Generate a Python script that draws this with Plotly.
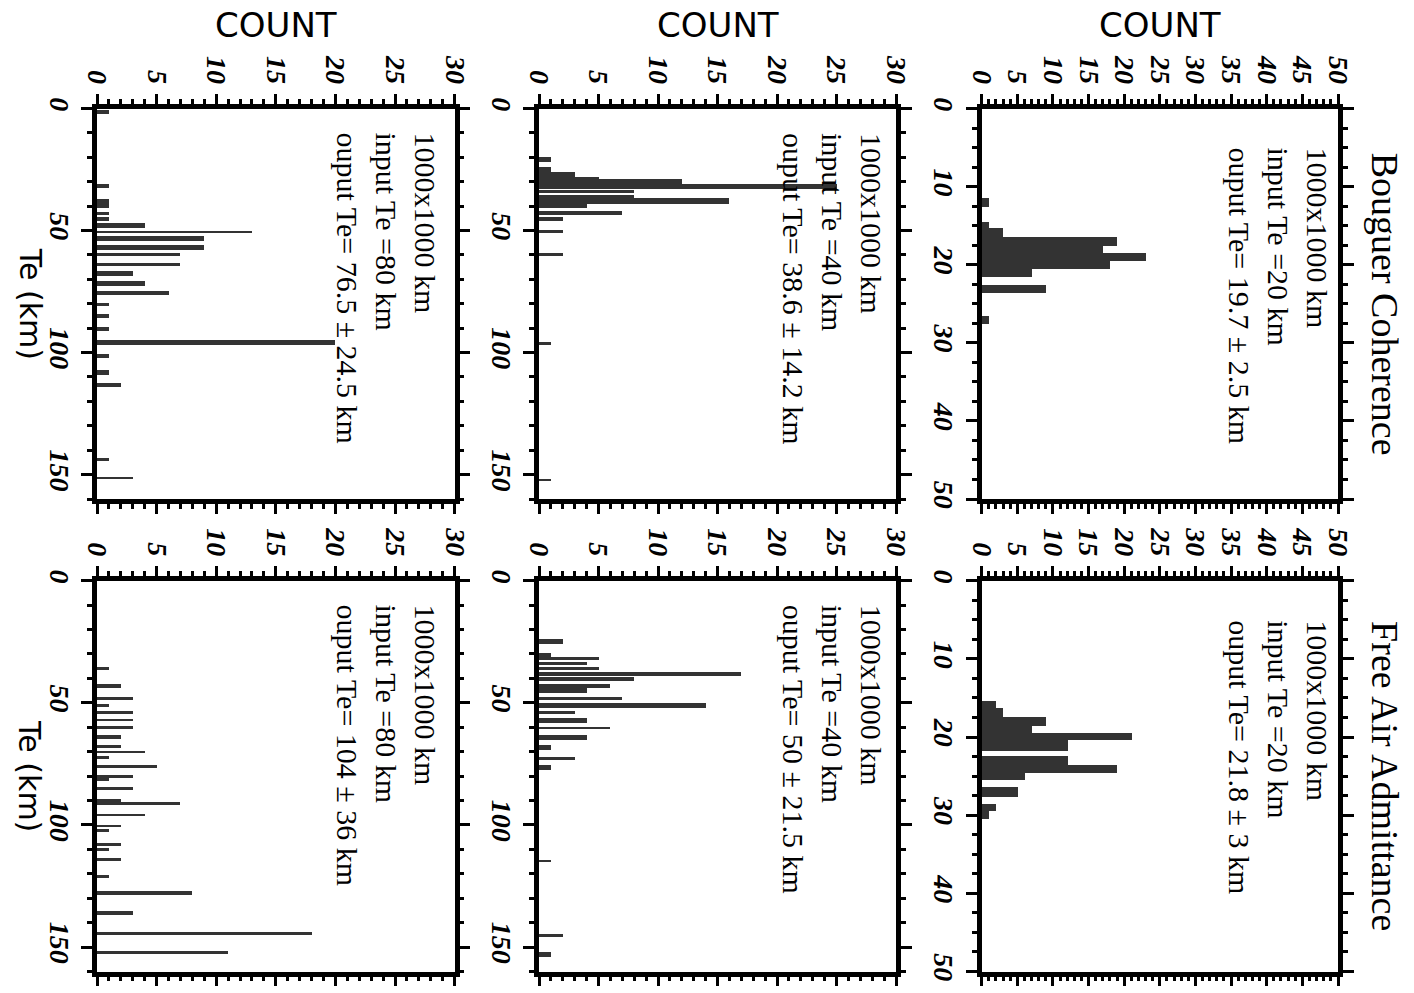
import plotly.graph_objects as go

# Histogram bins of recovered Te (km): lower edge, upper edge, count per bin

# Bouguer coherence
bc20_lo = [11.4, 14.5, 15.3, 16.4, 17.5, 18.5, 19.5, 20.5, 22.5, 26.5]
bc20_hi = [12.5, 15.3, 16.4, 17.5, 18.5, 19.5, 20.5, 21.5, 23.5, 27.5]
bc20_n = [1, 1, 3, 19, 17, 23, 18, 7, 9, 1]

bc40_lo = [19.7, 23.8, 25.9, 27.9, 28.8, 30.9, 33.0, 35.1, 36.5, 38.8, 41.9, 44.2, 49.7, 58.9, 95.5, 151.4]
bc40_hi = [21.8, 25.9, 27.9, 28.8, 30.9, 32.7, 34.4, 36.5, 38.8, 40.5, 43.3, 45.9, 51.0, 60.1, 96.6, 152.5]
bc40_n = [1, 1, 3, 5, 12, 25, 8, 8, 16, 4, 7, 2, 2, 2, 1, 1]

bc80_lo = [0.3, 30.7, 36.9, 38.7, 42.0, 44.4, 46.8, 49.8, 52.2, 55.6, 58.9, 63.0, 66.5, 70.6, 74.6,
           79.3, 83.8, 89.5, 94.8, 100.4, 107.1, 112.2, 142.8, 150.7]
bc80_hi = [2.0, 32.5, 38.7, 40.5, 43.4, 46.0, 48.7, 50.9, 54.2, 57.7, 60.4, 64.5, 68.3, 72.4, 76.4,
           80.9, 85.6, 91.1, 96.5, 102.2, 108.8, 113.8, 144.4, 151.8]
bc80_n = [1, 1, 1, 1, 1, 1, 4, 13, 9, 9, 7, 7, 3, 4, 6, 1, 1, 1, 20, 1, 1, 2, 1, 3]

# Free-air admittance
fa20_lo = [15.4, 16.3, 17.4, 18.5, 19.4, 20.4, 22.4, 23.5, 24.6, 26.4, 28.5, 29.4]
fa20_hi = [16.3, 17.4, 18.5, 19.4, 20.4, 21.7, 23.5, 24.6, 25.5, 27.6, 29.4, 30.5]
fa20_n = [2, 3, 9, 7, 21, 12, 12, 19, 6, 5, 2, 1]

fa40_lo = [23.8, 29.4, 31.1, 33.1, 35.2, 37.3, 39.1, 42.1, 43.7, 47.3, 50.0, 53.4, 56.1, 59.6, 63.0,
           67.1, 71.9, 75.3, 114.1, 144.5, 152.0]
fa40_hi = [25.7, 31.1, 32.5, 34.3, 36.6, 38.7, 41.1, 43.7, 45.9, 48.6, 52.0, 54.6, 58.2, 60.7, 65.0,
           69.0, 73.1, 77.2, 115.2, 145.6, 153.8]
fa40_n = [2, 1, 5, 4, 5, 17, 8, 6, 4, 7, 14, 3, 4, 6, 4, 1, 3, 1, 1, 2, 1]

fa80_lo = [35.3, 42.3, 47.5, 50.5, 53.3, 56.3, 59.4, 63.1, 67.1, 69.5, 71.6, 75.2, 79.3, 80.7, 84.4,
           89.2, 90.8, 95.2, 99.7, 101.7, 107.4, 109.4, 113.5, 120.5, 127.1, 135.2, 143.8, 151.3]
fa80_hi = [36.6, 43.9, 48.7, 51.7, 54.5, 57.5, 60.6, 64.5, 68.5, 70.5, 72.8, 76.6, 80.5, 81.9, 85.6,
           90.8, 91.6, 96.4, 100.9, 102.9, 108.6, 110.6, 114.7, 121.7, 128.5, 136.6, 144.8, 152.7]
fa80_n = [1, 2, 3, 1, 3, 3, 3, 2, 2, 4, 1, 5, 3, 1, 3, 2, 7, 4, 2, 1, 2, 1, 2, 1, 8, 3, 18, 11]

input_te = [80, 40, 20]
bc_out = ["76.5 ± 24.5", "38.6 ± 14.2", "19.7 ± 2.5"]
fa_out = ["104 ± 36", "50 ± 21.5", "21.8 ± 3"]
row_titles = ["Bouguer Coherence", "Free Air Admittance"]
count_max = [30, 30, 50]
te_max = [160, 160, 50]
te_major = [50, 50, 10]
te_minor = [10, 10, 2.5]

W, H = 1414, 993
col_px = [(97, 454.6), (539, 896), (981.7, 1338)]
row_px = [(108.5, 499), (580.7, 971.5)]
note_right_gap = [11, 6, 2]
note_top_gap = [22, 22, 37]

panels = [
    (0, 0, bc80_lo, bc80_hi, bc80_n, bc_out[0]),
    (0, 1, bc40_lo, bc40_hi, bc40_n, bc_out[1]),
    (0, 2, bc20_lo, bc20_hi, bc20_n, bc_out[2]),
    (1, 0, fa80_lo, fa80_hi, fa80_n, fa_out[0]),
    (1, 1, fa40_lo, fa40_hi, fa40_n, fa_out[1]),
    (1, 2, fa20_lo, fa20_hi, fa20_n, fa_out[2]),
]

SERIF = "Liberation Serif"
SANS = "DejaVu Sans"
BAR = "#333333"

fig = go.Figure()
layout = dict(
    template="none",
    width=W, height=H, autosize=False,
    margin=dict(l=0, r=0, t=0, b=0, pad=0, autoexpand=False),
    paper_bgcolor="white", plot_bgcolor="white",
    showlegend=False,
    bargap=0,
)
annotations = []

for i, (r, c, lo, hi, n, out) in enumerate(panels):
    k = "" if i == 0 else str(i + 1)
    xa, ya = "x" + k, "y" + k
    centers = [(a + b) / 2 for a, b in zip(lo, hi)]
    widths = [b - a for a, b in zip(lo, hi)]
    fig.add_trace(go.Bar(
        x=n, y=centers, width=widths, orientation="h",
        marker=dict(color=BAR, line=dict(width=0)),
        xaxis=xa, yaxis=ya, hoverinfo="x+y",
    ))

    x0, x1 = col_px[c]
    y0, y1 = row_px[r]
    common = dict(
        automargin=False,
        showgrid=False, zeroline=False, showline=True,
        linecolor="black", linewidth=4.5, mirror="ticks",
        ticks="outside", tickcolor="black", tickwidth=2.5,
        tickangle=90,
        tickfont=dict(family=SERIF, size=28, color="black", style="italic", weight="bold"),
    )
    layout["xaxis" + k] = dict(
        common,
        domain=[x0 / W, x1 / W],
        anchor=ya, side="top",
        range=[0, count_max[c]],
        tick0=0, dtick=5, ticklen=10,
        minor=dict(dtick=1, tick0=0, ticks="outside", ticklen=5, tickwidth=2.5, tickcolor="black"),
        ticklabelstandoff=0,
    )
    layout["yaxis" + k] = dict(
        common,
        domain=[1 - y1 / H, 1 - y0 / H],
        anchor=xa, side="left",
        range=[te_max[c], 0],
        tick0=0, dtick=te_major[c], ticklen=11,
        minor=dict(dtick=te_minor[c], tick0=0, ticks="outside", ticklen=5, tickwidth=2.5, tickcolor="black"),
        ticklabelstandoff=-2,
    )

    annotations.append(dict(
        xref=xa + " domain", yref=ya + " domain",
        x=1 - note_right_gap[c] / (x1 - x0), y=1 - note_top_gap[c] / (y1 - y0),
        xanchor="right", yanchor="top", align="left",
        textangle=90, showarrow=False,
        text=f"1000x1000 km<br>input Te ={input_te[c]} km<br>ouput Te= {out} km",
        font=dict(family=SERIF, size=30, color="black"),
    ))

# column headings
for c in range(3):
    x0, x1 = col_px[c]
    annotations.append(dict(
        xref="paper", yref="paper", x=(x0 + x1) / 2 / W, y=1 - 25 / H,
        xanchor="center", yanchor="middle", showarrow=False,
        text="COUNT", font=dict(family=SANS, size=34, color="black"),
    ))

# row labels
for r in range(2):
    y0, y1 = row_px[r]
    yc = 1 - (y0 + y1) / 2 / H
    annotations.append(dict(
        xref="paper", yref="paper", x=30 / W, y=yc,
        xanchor="center", yanchor="middle", textangle=90, showarrow=False,
        text="Te (km)", font=dict(family=SANS, size=30, color="black"),
    ))
    annotations.append(dict(
        xref="paper", yref="paper", x=1385 / W, y=yc,
        xanchor="center", yanchor="middle", textangle=90, showarrow=False,
        text=row_titles[r], font=dict(family=SERIF, size=38, color="black"),
    ))

layout["annotations"] = annotations
fig.update_layout(**layout)
fig.write_html("out.html")
